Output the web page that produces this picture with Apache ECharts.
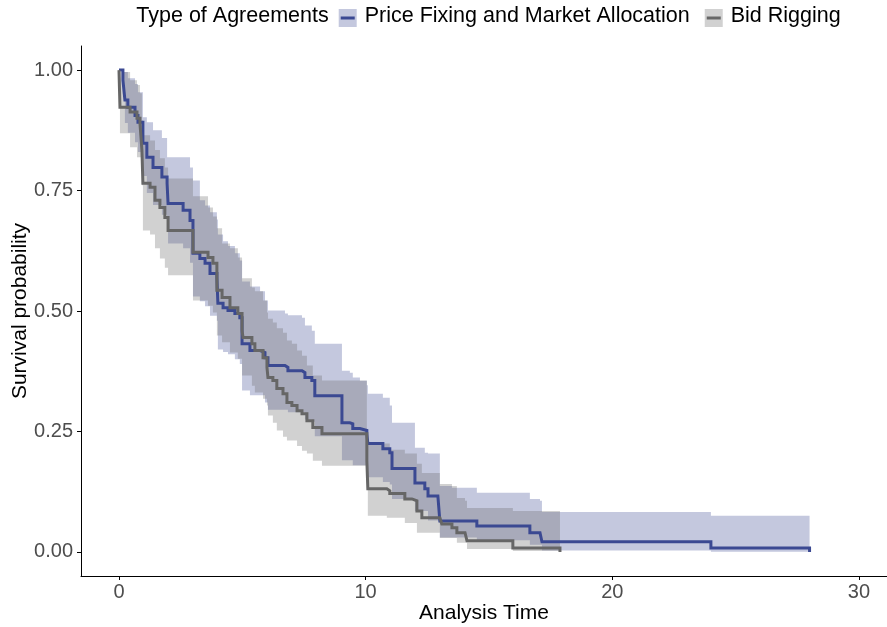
<!DOCTYPE html>
<html>
<head>
<meta charset="utf-8">
<script src="https://cdn.jsdelivr.net/npm/echarts@6.0.0/dist/echarts.min.js"></script>
<style>
html,body{margin:0;padding:0;background:#fff;}
#chart{width:887px;height:627px;}
</style>
</head>
<body>
<div id="chart"></div>
<script>
// ---------- data (time, value) ----------
const legendTitle = 'Type of Agreements';
const groupNames = ['Price Fixing and Market Allocation', 'Bid Rigging'];
const xTicks = [0, 10, 20, 30];
const yTicks = [0, 0.25, 0.5, 0.75, 1];

const pfSurv = [[0,1],[0.16,0.979],[0.24,0.938],[0.36,0.923],[0.65,0.906],[0.77,0.892],[0.97,0.848],[1.13,0.819],[1.38,0.798],[1.74,0.778],[1.95,0.765],[1.99,0.723],[2.6,0.709],[2.88,0.688],[3.0,0.62],[3.28,0.609],[3.49,0.599],[3.69,0.578],[3.97,0.570],[4.01,0.516],[4.22,0.507],[4.42,0.501],[4.70,0.495],[4.90,0.486],[4.99,0.432],[5.31,0.418],[5.72,0.414],[5.92,0.403],[6.04,0.387],[6.73,0.383],[6.85,0.376],[7.42,0.372],[7.54,0.362],[7.82,0.356],[7.94,0.324],[9.04,0.268],[9.36,0.266],[9.48,0.256],[9.77,0.252],[10.05,0.245],[10.09,0.225],[10.70,0.214],[10.98,0.206],[11.07,0.173],[12.0,0.143],[12.40,0.131],[12.53,0.116],[12.93,0.112],[13.01,0.064],[14.51,0.054],[16.66,0.040],[17.07,0.037],[17.15,0.021],[24.0,0.0083],[28.0,0]];
const pfUpper = [[0,1],[0.16,0.996],[0.36,0.983],[0.65,0.971],[0.77,0.954],[0.97,0.902],[1.13,0.892],[1.38,0.875],[1.74,0.859],[1.95,0.819],[2.88,0.798],[3.0,0.771],[3.28,0.730],[3.49,0.719],[3.69,0.705],[3.97,0.690],[4.01,0.659],[4.22,0.645],[4.42,0.635],[4.70,0.620],[4.90,0.605],[4.99,0.561],[5.31,0.551],[5.72,0.541],[5.92,0.522],[6.04,0.501],[6.73,0.495],[6.85,0.491],[7.42,0.486],[7.54,0.470],[7.82,0.459],[7.94,0.432],[9.04,0.376],[9.36,0.372],[9.48,0.362],[9.77,0.355],[10.05,0.346],[10.09,0.328],[10.70,0.320],[10.98,0.304],[11.07,0.268],[12.0,0.216],[12.40,0.206],[12.53,0.204],[13.01,0.137],[13.50,0.133],[14.51,0.123],[16.66,0.110],[17.07,0.106],[17.15,0.083],[24.0,0.075]];
const pfLower = [[0,1],[0.16,0.95],[0.24,0.89],[0.36,0.87],[0.65,0.85],[0.77,0.83],[0.97,0.78],[1.13,0.745],[1.38,0.72],[1.74,0.70],[1.95,0.685],[1.99,0.64],[2.6,0.63],[2.88,0.60],[3.0,0.53],[3.28,0.52],[3.49,0.51],[3.69,0.49],[3.97,0.48],[4.01,0.42],[4.22,0.415],[4.42,0.41],[4.70,0.40],[4.90,0.39],[4.99,0.335],[5.31,0.325],[5.92,0.31],[6.04,0.295],[6.85,0.29],[7.54,0.275],[7.82,0.27],[7.94,0.24],[9.04,0.19],[9.48,0.18],[10.05,0.175],[10.09,0.155],[10.70,0.145],[10.98,0.14],[11.07,0.11],[12.0,0.085],[12.53,0.065],[13.01,0.03],[14.51,0.024],[16.66,0.015],[17.15,0.003],[24.0,0.0005]];
const pfEnd = 28.0;

const brSurv = [[0,1],[0.04,0.923],[0.45,0.913],[0.73,0.900],[0.85,0.89],[0.93,0.834],[0.97,0.765],[1.26,0.757],[1.46,0.730],[1.66,0.715],[1.86,0.694],[1.99,0.667],[3.0,0.622],[3.61,0.611],[3.81,0.599],[3.97,0.543],[4.18,0.528],[4.50,0.507],[4.82,0.495],[4.99,0.459],[5.03,0.445],[5.39,0.432],[5.51,0.418],[5.84,0.403],[6.0,0.383],[6.04,0.362],[6.24,0.356],[6.40,0.339],[6.65,0.328],[6.81,0.310],[7.01,0.304],[7.22,0.293],[7.42,0.287],[7.62,0.272],[7.86,0.258],[8.23,0.245],[10.05,0.189],[10.09,0.131],[10.86,0.127],[10.98,0.121],[11.59,0.110],[11.88,0.106],[12.08,0.085],[12.28,0.071],[13.01,0.069],[13.09,0.058],[13.50,0.050],[13.70,0.040],[14.03,0.037],[14.11,0.023],[15.97,0.0083],[17.88,0]];
const brUpper = [[0,1],[0.04,0.996],[0.45,0.979],[0.73,0.969],[0.85,0.952],[0.93,0.896],[0.97,0.865],[1.26,0.854],[1.46,0.834],[1.66,0.817],[1.86,0.798],[1.99,0.775],[3.0,0.738],[3.61,0.715],[3.81,0.696],[3.97,0.672],[4.18,0.640],[4.50,0.630],[4.82,0.611],[4.99,0.568],[5.39,0.549],[5.51,0.541],[5.84,0.522],[6.0,0.497],[6.04,0.484],[6.24,0.476],[6.40,0.464],[6.65,0.455],[6.81,0.439],[7.01,0.432],[7.22,0.418],[7.42,0.407],[7.62,0.387],[7.86,0.366],[8.23,0.356],[10.05,0.225],[10.98,0.212],[11.59,0.204],[12.08,0.183],[12.28,0.164],[13.01,0.141],[13.50,0.137],[13.70,0.112],[14.03,0.106],[14.11,0.091],[15.97,0.085]];
const brLower = [[0,1],[0.04,0.869],[0.45,0.840],[0.73,0.819],[0.93,0.761],[0.97,0.667],[1.26,0.659],[1.46,0.630],[1.66,0.609],[1.86,0.590],[1.99,0.574],[3.0,0.522],[3.61,0.511],[3.81,0.497],[3.97,0.449],[4.18,0.435],[4.50,0.414],[4.82,0.401],[4.99,0.366],[5.39,0.345],[5.51,0.331],[5.84,0.318],[6.0,0.304],[6.04,0.283],[6.24,0.268],[6.40,0.252],[6.65,0.239],[6.81,0.231],[7.22,0.220],[7.42,0.210],[7.62,0.204],[7.86,0.189],[8.23,0.179],[10.05,0.14],[10.09,0.075],[10.86,0.071],[11.59,0.060],[12.08,0.040],[13.01,0.029],[13.70,0.019],[14.11,0.006],[15.97,0.002]];
const brEnd = 17.88;

// ---------- styling ----------
const FONT = '"Liberation Sans", Arial, Helvetica, sans-serif';
const pfColor = '#3B4992';
const brColor = '#666666';
const pfFill = 'rgba(59,73,146,0.3)';
const brFill = 'rgba(102,102,102,0.3)';

function bandSeries(name, upper, lower, tEnd, fill) {
  return {
    type: 'custom', name: name + ' CI', silent: true, z: 1, clip: true,
    data: [[0, 0]],
    renderItem: function (params, api) {
      const pts = [];
      for (let i = 0; i < upper.length; i++) {
        const t1 = i + 1 < upper.length ? upper[i + 1][0] : tEnd;
        pts.push(api.coord([upper[i][0], upper[i][1]]));
        pts.push(api.coord([t1, upper[i][1]]));
      }
      for (let i = lower.length - 1; i >= 0; i--) {
        const t1 = i + 1 < lower.length ? lower[i + 1][0] : tEnd;
        pts.push(api.coord([t1, lower[i][1]]));
        pts.push(api.coord([lower[i][0], lower[i][1]]));
      }
      return { type: 'polygon', shape: { points: pts }, style: { fill: fill, stroke: null } };
    }
  };
}

function lineSeries(name, data, color) {
  return {
    type: 'line', name: name, data: data, step: 'end', symbol: 'none', z: 3,
    silent: true, clip: true,
    lineStyle: { color: color, width: 3, cap: 'butt', join: 'miter' },
    itemStyle: { color: color }
  };
}

// ---------- legend layout (measured) ----------
const LFS = 21.5;
const ctx = document.createElement('canvas').getContext('2d');
ctx.font = LFS + 'px ' + FONT;
const wTitle = ctx.measureText(legendTitle).width;
const w1 = ctx.measureText(groupNames[0]).width;
const w2 = ctx.measureText(groupNames[1]).width;
const KEY = 18, GAP_TITLE = 10, GAP_KEY = 8, GAP_ITEM = 15;
const totalW = wTitle + GAP_TITLE + KEY + GAP_KEY + w1 + GAP_ITEM + KEY + GAP_KEY + w2;
const legendCX = 488.5, legendCY = 18;
let lx = legendCX - totalW / 2;
const g = [];
g.push({ type: 'text', left: lx, top: legendCY - LFS * 0.58, style: { text: legendTitle, font: LFS + 'px ' + FONT, fill: '#000' } });
lx += wTitle + GAP_TITLE;
const keys = [[pfFill, pfColor, groupNames[0], w1], [brFill, brColor, groupNames[1], w2]];
keys.forEach(function (k, i) {
  g.push({ type: 'rect', shape: { x: lx, y: legendCY - KEY / 2, width: KEY, height: KEY }, style: { fill: k[0] } });
  g.push({ type: 'line', shape: { x1: lx + 2, y1: legendCY, x2: lx + KEY - 2, y2: legendCY }, style: { stroke: k[1], lineWidth: 3 } });
  lx += KEY + GAP_KEY;
  g.push({ type: 'text', left: lx, top: legendCY - LFS * 0.58, style: { text: k[2], font: LFS + 'px ' + FONT, fill: '#000' } });
  lx += k[3] + GAP_ITEM;
});

const chart = echarts.init(document.getElementById('chart'), null, { renderer: 'canvas' });
chart.setOption({
  animation: false,
  backgroundColor: '#fff',
  textStyle: { fontFamily: FONT },
  grid: { left: 81, top: 46, right: 0, bottom: 51, containLabel: false, outerBoundsMode: 'none' },
  xAxis: {
    type: 'value', min: -1.54, max: 31.14,
    name: 'Analysis Time', nameLocation: 'middle', nameGap: 27, nameMoveOverlap: false,
    nameTextStyle: { fontSize: 21, color: '#000', fontFamily: FONT },
    axisLine: { show: true, onZero: false, lineStyle: { color: '#000', width: 1 } },
    axisTick: { show: true, length: 4, lineStyle: { color: '#000' }, customValues: xTicks },
    axisLabel: { fontSize: 20, color: '#4d4d4d', margin: 6, customValues: xTicks, fontFamily: FONT },
    splitLine: { show: false }
  },
  yAxis: {
    type: 'value', min: -0.05, max: 1.05,
    name: 'Survival probability', nameLocation: 'middle', nameGap: 50, nameRotate: 90, nameMoveOverlap: false,
    nameTextStyle: { fontSize: 21, color: '#000', fontFamily: FONT },
    axisLine: { show: true, onZero: false, lineStyle: { color: '#000', width: 1 } },
    axisTick: { show: true, length: 4, lineStyle: { color: '#000' }, customValues: yTicks },
    axisLabel: { fontSize: 20, color: '#4d4d4d', margin: 8, customValues: yTicks, fontFamily: FONT,
      formatter: function (v) { return v.toFixed(2); } },
    splitLine: { show: false }
  },
  graphic: g,
  series: [
    bandSeries(groupNames[0], pfUpper, pfLower, pfEnd, pfFill),
    bandSeries(groupNames[1], brUpper, brLower, brEnd, brFill),
    lineSeries(groupNames[0], pfSurv, pfColor),
    lineSeries(groupNames[1], brSurv, brColor)
  ]
});
</script>
</body>
</html>
